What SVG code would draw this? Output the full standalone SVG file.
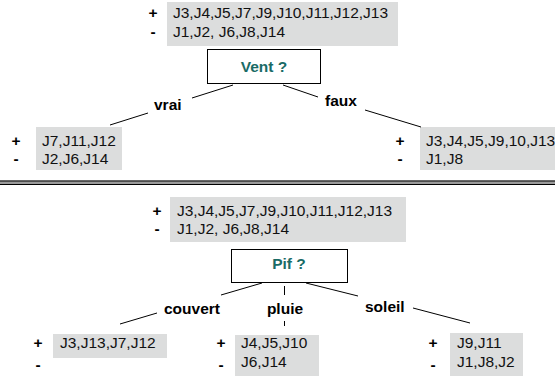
<svg xmlns="http://www.w3.org/2000/svg" width="555" height="377" viewBox="0 0 555 377">
<style>
.bg{fill:#dcdddd;stroke:none}
.q{fill:#fff;stroke:#000;stroke-width:1}
.t{font-family:"Liberation Sans",Arial,sans-serif;font-size:15.5px;fill:#111}
.s{font-family:"Liberation Sans",Arial,sans-serif;font-size:15.5px;font-weight:bold;fill:#000}
.qt{font-family:"Liberation Sans",Arial,sans-serif;font-size:15.5px;font-weight:bold;fill:#1a6b66;text-anchor:middle}
.pm{font-family:"Liberation Sans",Arial,sans-serif;font-size:15.5px;font-weight:bold;fill:#000;text-anchor:middle}
.c{stroke:#000;stroke-width:1;fill:none}
</style>
<rect width="555" height="377" fill="#fff"/>
<g id="top-root">
<rect class="bg" x="167" y="2" width="231" height="44"/>
<text class="pm" x="153" y="18">+</text><text class="pm" x="153" y="37">-</text>
<text class="t" x="173" y="18">J3,J4,J5,J7,J9,J10,J11,J12,J13</text>
<text class="t" x="173" y="37">J1,J2, J6,J8,J14</text>
</g>
<g id="vent">
<rect class="q" x="207.5" y="49.5" width="113" height="34"/>
<text class="qt" x="264" y="72">Vent ?</text>
</g>
<g id="vrai-leaf">
<rect class="bg" x="36" y="127" width="86" height="43"/>
<text class="pm" x="16" y="146">+</text><text class="pm" x="16" y="164">-</text>
<text class="t" x="42" y="146">J7,J11,J12</text>
<text class="t" x="42" y="164">J2,J6,J14</text>
</g>
<g id="faux-leaf">
<rect class="bg" x="420" y="127" width="135" height="43"/>
<text class="pm" x="400" y="146">+</text><text class="pm" x="400" y="164">-</text>
<text class="t" x="426" y="146">J3,J4,J5,J9,10,J13</text>
<text class="t" x="426" y="164">J1,J8</text>
</g>
<g id="divider">
<rect x="0" y="180.5" width="555" height="4.5" fill="#9a9a9a"/>
<line x1="0" y1="181" x2="555" y2="181" stroke="#000" stroke-width="1.2"/>
<line x1="0" y1="184.5" x2="555" y2="184.5" stroke="#000" stroke-width="1.2"/>
</g>
<g id="bottom-root">
<rect class="bg" x="170" y="197" width="236" height="45"/>
<text class="pm" x="157" y="216">+</text><text class="pm" x="157" y="234">-</text>
<text class="t" x="177" y="216">J3,J4,J5,J7,J9,J10,J11,J12,J13</text>
<text class="t" x="177" y="234">J1,J2, J6,J8,J14</text>
</g>
<g id="pif">
<rect class="q" x="231.5" y="249.5" width="116" height="33"/>
<text class="qt" x="289" y="269">Pif ?</text>
</g>
<g id="couvert-leaf">
<rect class="bg" x="53" y="334" width="114" height="24"/>
<text class="pm" x="38" y="348">+</text><text class="pm" x="38" y="370">-</text>
<text class="t" x="60" y="348">J3,J13,J7,J12</text>
</g>
<g id="pluie-leaf">
<rect class="bg" x="235" y="335" width="84" height="41"/>
<text class="pm" x="221" y="348">+</text><text class="pm" x="221" y="370">-</text>
<text class="t" x="241" y="348">J4,J5,J10</text>
<text class="t" x="241" y="367">J6,J14</text>
</g>
<g id="soleil-leaf">
<rect class="bg" x="450" y="333" width="73" height="43"/>
<text class="pm" x="433" y="348">+</text><text class="pm" x="433" y="370">-</text>
<text class="t" x="457" y="348">J9,J11</text>
<text class="t" x="457" y="367">J1,J8,J2</text>
</g>
<g id="connectors">
<line class="c" x1="233" y1="85" x2="192" y2="98"/>
<line class="c" x1="148" y1="113" x2="110" y2="125"/>
<line class="c" x1="283" y1="85" x2="318" y2="97"/>
<line class="c" x1="365" y1="110" x2="421" y2="127"/>
<line class="c" x1="262" y1="283" x2="221" y2="295"/>
<line class="c" x1="157" y1="313" x2="120" y2="324"/>
<line class="c" x1="284.5" y1="286" x2="284.5" y2="295"/>
<line class="c" x1="284.5" y1="321" x2="284.5" y2="326"/>
<line class="c" x1="306" y1="283" x2="358" y2="296"/>
<line class="c" x1="413" y1="308" x2="470" y2="323"/>
</g>
<g id="labels">
<text class="s" x="154" y="110">vrai</text>
<text class="s" x="325" y="106">faux</text>
<text class="s" x="164" y="314">couvert</text>
<text class="s" x="285" y="314" text-anchor="middle">pluie</text>
<text class="s" x="365" y="312">soleil</text>
</g>
</svg>
